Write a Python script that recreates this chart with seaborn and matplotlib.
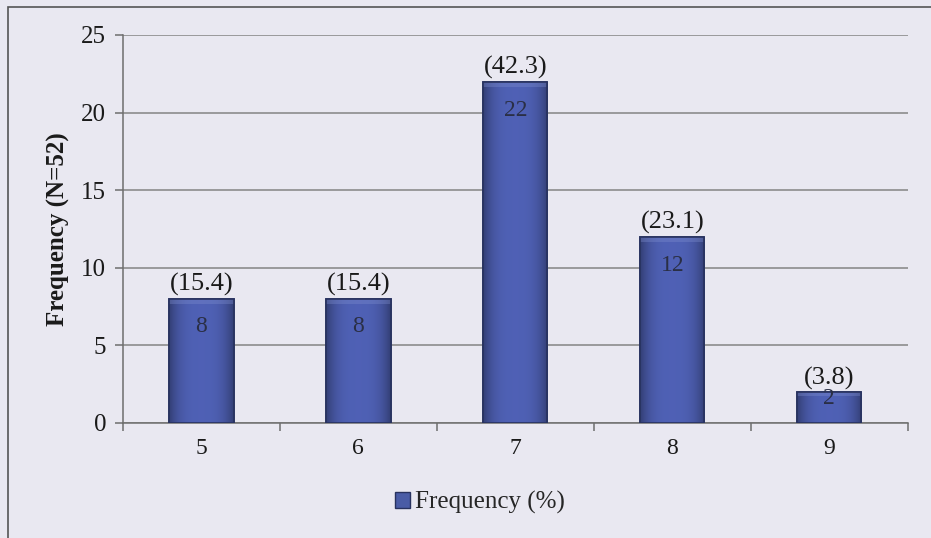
import matplotlib
matplotlib.use("Agg")
import matplotlib.pyplot as plt
from matplotlib.patches import Patch, Rectangle
from matplotlib.ticker import FixedLocator
import numpy as np
import seaborn as sns
import pandas as pd

scores = ["5", "6", "7", "8", "9"]
counts = [8, 8, 22, 12, 2]
percents = ["(15.4)", "(15.4)", "(42.3)", "(23.1)", "(3.8)"]
y_ticks = [0, 5, 10, 15, 20, 25]

bg = "#e9e8f1"
bar_color = "#4a5ca6"
edge_color = "#28325f"

sns.set_theme(style="white")
plt.rcParams["font.family"] = ["Liberation Serif", "DejaVu Serif"]

fig = plt.figure(figsize=(9.31, 5.38), dpi=100, facecolor=bg)
ax = fig.add_axes([0.132, 0.214, 0.843, 0.721])
ax.set_facecolor(bg)

df = pd.DataFrame({"score": scores, "count": counts})
sns.barplot(data=df, x="score", y="count", color=bar_color, width=0.41,
            edgecolor=edge_color, linewidth=1.2, saturation=1, ax=ax, zorder=3)

ax.set_ylim(0, 25)
ax.set_xlim(-0.5, len(scores) - 0.5)

# soft bevel shading on each bar, clipped to the bar shape
xs = np.linspace(0, 1, 64)
prof = 1 - 0.35 * (np.abs(xs - 0.5) * 2) ** 3
grad = prof[None, :, None] * np.array([0.31, 0.38, 0.71])[None, None, :]
grad = np.clip(grad, 0, 1)
for patch in list(ax.patches):
    x0, y0 = patch.get_x(), patch.get_y()
    w, h = patch.get_width(), patch.get_height()
    im = ax.imshow(grad, extent=(x0, x0 + w, y0, y0 + h), aspect="auto",
                   zorder=3.5, interpolation="bicubic")
    im.set_clip_path(patch)
    top = min(0.35, h * 0.12)
    ax.add_patch(Rectangle((x0, y0 + h - top), w, top, facecolor="#8090d0",
                           alpha=0.35, edgecolor="none", zorder=3.6))
    ax.add_patch(Rectangle((x0, y0), w, h, facecolor="none",
                           edgecolor=edge_color, linewidth=1.2, zorder=3.7))

ax.set_xlim(-0.5, len(scores) - 0.5)
ax.set_ylim(0, 25)
ax.set_yticks(y_ticks)
ax.yaxis.grid(True, color="#848484", linewidth=1.1, zorder=0)
ax.set_axisbelow(True)

for side in ["top", "right"]:
    ax.spines[side].set_visible(False)
for side in ["left", "bottom"]:
    ax.spines[side].set_color("#6e6e6e")
    ax.spines[side].set_linewidth(1.1)

# category boundary ticks on the x axis
ax.xaxis.set_minor_locator(FixedLocator([i - 0.5 for i in range(len(scores) + 1)]))
ax.tick_params(axis="x", which="major", length=0, labelsize=17, pad=11, colors="#1a1a1a")
ax.tick_params(axis="x", which="minor", bottom=True, length=6, width=1.1, color="#6e6e6e")
ax.tick_params(axis="y", left=True, length=6, width=1.1, color="#6e6e6e",
               labelsize=18, pad=6, labelcolor="#1a1a1a")

ax.set_xlabel("")
ax.set_ylabel("Frequency (N=52)", fontsize=18, fontweight="bold", labelpad=8, color="#1a1a1a")

# counts inside the bars, percentages above
for i, (c, p) in enumerate(zip(counts, percents)):
    ax.text(i, c - min(1.87, c * 0.22), str(c), ha="center", va="center", fontsize=17,
            color="#2a2f45", zorder=5)
    ax.text(i, c + 0.15, p, ha="center", va="bottom", fontsize=19, color="#1a1a1a", zorder=5)

handle = Patch(facecolor=bar_color, edgecolor=edge_color, linewidth=1)
fig.legend([handle], ["Frequency (%)"], loc="center", bbox_to_anchor=(0.515, 0.066),
           frameon=False, fontsize=18, handlelength=0.6, handleheight=0.6,
           handletextpad=0.2)

# outer chart border
fig.patches.append(Rectangle((0.009, -0.1), 1.2, 1.087, transform=fig.transFigure,
                             fill=False, edgecolor="#555555", linewidth=1.2))

fig.savefig("out.png", dpi=100, facecolor=bg)
